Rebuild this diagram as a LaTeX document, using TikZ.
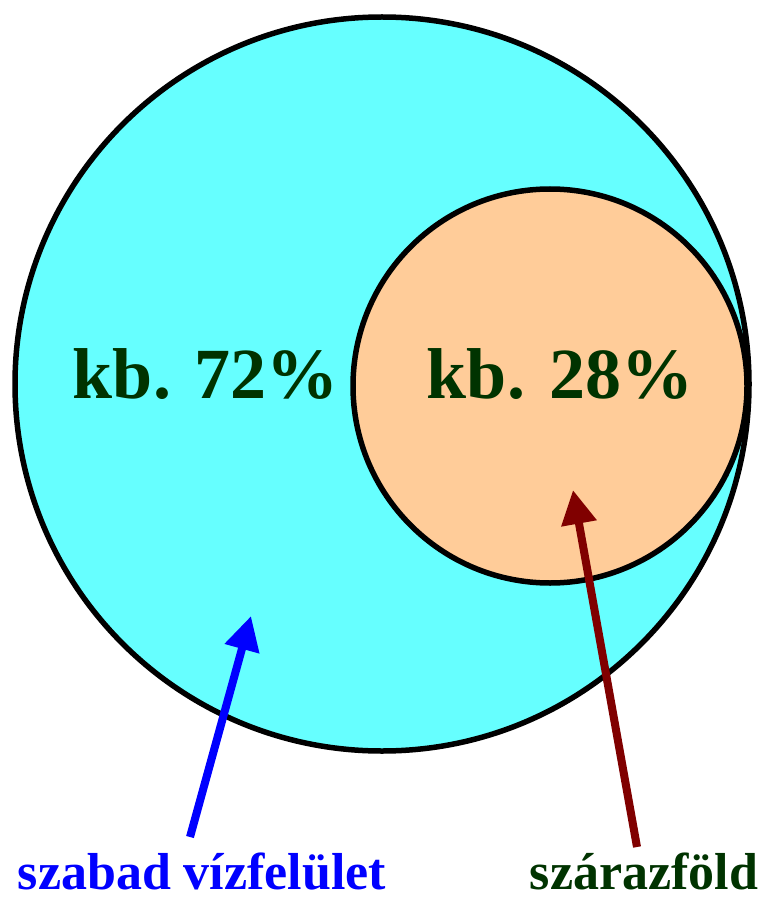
\documentclass[tikz,border=0pt]{standalone}
\usepackage{fontspec}
\setmainfont{Liberation Serif}
\usepackage{xcolor}
\usepackage{tikz}
\usetikzlibrary{arrows.meta}
\usetikzlibrary{positioning}
\definecolor{vizkek}{HTML}{66FFFF}
\definecolor{foldszin}{HTML}{FFCC99}
\definecolor{sotetzold}{HTML}{003300}
\definecolor{bordo}{HTML}{800000}
\tikzset{
  kor/.style={circle, draw, line width=5.5pt, inner sep=0pt, minimum size=#1},
  szazalek/.style={font=\fontsize{72}{80}\selectfont\bfseries, text=sotetzold, anchor=base, inner sep=0pt},
  felirat/.style={font=\fontsize{52}{60}\selectfont\bfseries, anchor=base, inner sep=0pt, text depth=0pt},
  nyil/.style={-{Triangle[width=34pt,length=34pt]}, line width=8pt},
}

\begin{document}
\begin{tikzpicture}[x=1pt, y=-1pt]
  \useasboundingbox (0,0) rectangle (758,901);
  \node[kor=734pt, fill=vizkek] (vizkor) at (382,384) {};
  \node[kor=394pt, fill=foldszin] (foldkor) at (550,386) {};
  \node[szazalek] (vizszam) at (206,398) {kb. 72\%};
  \node[szazalek] (foldszam) at (560,398) {kb. 28\%};
  \node[felirat, text=blue] (vizfelirat) at (202,889) {szabad vízfelület};
  \node[felirat, text=sotetzold] (foldfelirat) at (644,889) {szárazföld};
  \coordinate (vizvege) at (190,837);
  \coordinate (vizhegy) at (251,616);
  \coordinate (foldvege) at (637,847);
  \coordinate (foldhegy) at (573,490);
  \draw[nyil, blue] (vizvege) -- (vizhegy);
  \draw[nyil, bordo] (foldvege) -- (foldhegy);
\end{tikzpicture}
\end{document}
